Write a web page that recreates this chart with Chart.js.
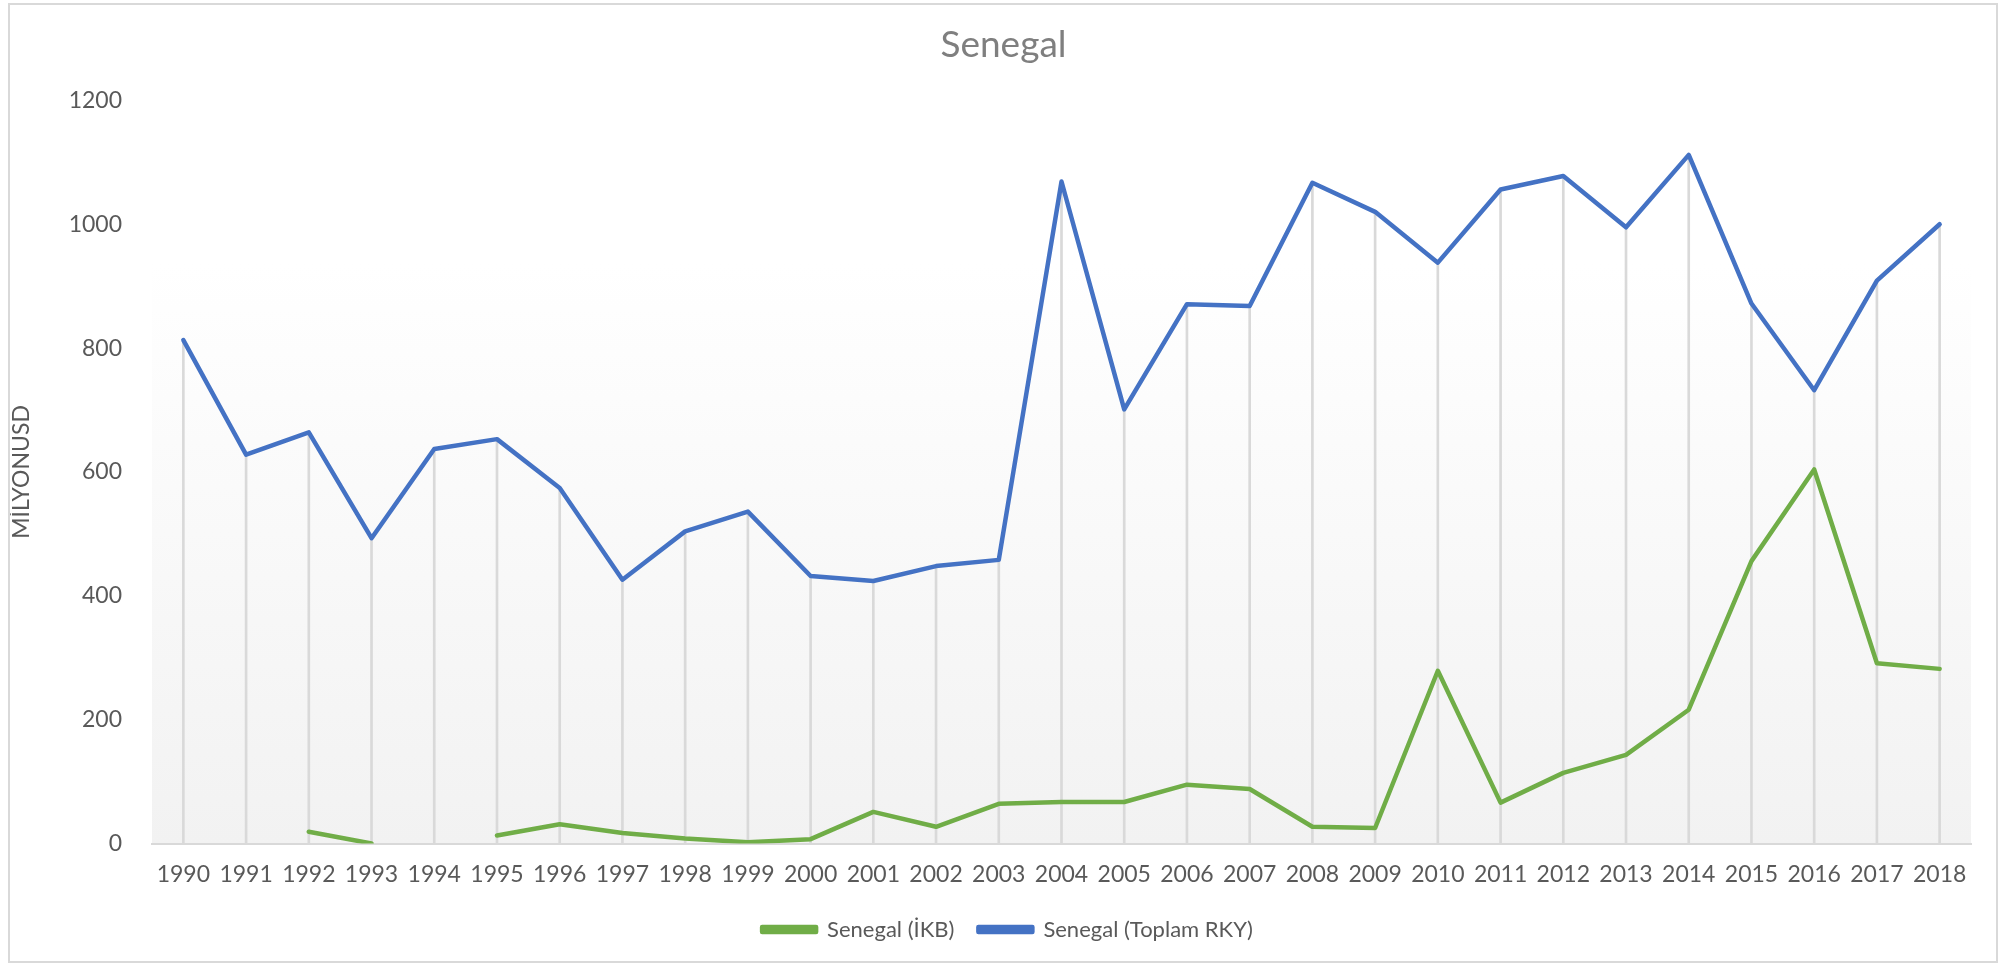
<!DOCTYPE html>
<html>
<head>
<meta charset="utf-8">
<script src="https://cdn.jsdelivr.net/npm/chart.js@4/dist/chart.umd.min.js"></script>
<style>
  html, body { margin: 0; padding: 0; background: #fff; }
  #wrap { position: relative; width: 2015px; height: 966px; }
  #frame { position: absolute; left: 8px; top: 3px; width: 1990px; height: 960px; border: 2px solid #d9d9d9; box-sizing: border-box; pointer-events: none; }
</style>
</head>
<body>
<div id="wrap">
  <canvas id="chart" width="2015" height="966"></canvas>
  <div id="frame"></div>
</div>
<script>
// --- Data ---
const years = ['1990','1991','1992','1993','1994','1995','1996','1997','1998','1999',
               '2000','2001','2002','2003','2004','2005','2006','2007','2008','2009',
               '2010','2011','2012','2013','2014','2015','2016','2017','2018'];

// Senegal (İKB)
const ikb = [null, null, 19, 0, null, 13, 31, 17, 8, 2,
             7, 51, 27, 64, 67, 67, 95, 88, 27, 25,
             279, 66, 114, 143, 216, 456, 604, 291, 282];

// Senegal (Toplam RKY)
const toplamRky = [813, 628, 664, 493, 637, 653, 574, 426, 504, 536,
                   432, 424, 448, 458, 1069, 701, 871, 868, 1067, 1020,
                   938, 1056, 1078, 995, 1112, 872, 732, 909, 1000];

const yTicks = [0, 200, 400, 600, 800, 1000, 1200];

const FONT = 'Lato, "Open Sans", sans-serif';
const TEXT = '#595959';

// plot area fill: white at the top fading to light grey
const plotBackground = {
    id: 'plotBackground',
    beforeDraw(chart) {
        const {ctx, chartArea: a} = chart;
        const g = ctx.createLinearGradient(0, a.top, 0, a.bottom);
        g.addColorStop(0, '#ffffff');
        g.addColorStop(0.22, '#ffffff');
        g.addColorStop(1, '#f2f2f2');
        ctx.save();
        ctx.fillStyle = g;
        ctx.fillRect(a.left, a.top, a.right - a.left, a.bottom - a.top);
        ctx.restore();
    }
};

// title and legend sit centred on the whole frame, not on the padded box
const nudgeBoxes = {
    id: 'nudgeBoxes',
    afterLayout(chart) {
        chart.titleBlock.left += 18;
        chart.titleBlock.right += 18;
        chart.legend.left += 22;
        chart.legend.right += 22;
    }
};

new Chart(document.getElementById('chart'), {
    type: 'line',
    data: {
        labels: years,
        datasets: [
            {
                label: 'Senegal (İKB)',
                data: ikb,
                borderColor: '#70ad47',
                backgroundColor: '#70ad47',
                borderWidth: 4.5,
                pointRadius: 0,
                tension: 0,
                borderJoinStyle: 'round',
                borderCapStyle: 'round',
                spanGaps: false,
                order: 1
            },
            {
                label: 'Senegal (Toplam RKY)',
                data: toplamRky,
                borderColor: '#4472c4',
                backgroundColor: '#4472c4',
                borderWidth: 4.5,
                pointRadius: 0,
                tension: 0,
                borderJoinStyle: 'round',
                borderCapStyle: 'round',
                order: 2
            },
            {
                // drop lines from the top series down to the axis
                type: 'bar',
                label: 'drop',
                data: toplamRky,
                backgroundColor: '#d9d9d9',
                barThickness: 2,
                order: 3
            }
        ]
    },
    options: {
        responsive: false,
        animation: false,
        layout: { padding: { left: 0, right: 44, top: 0, bottom: 15.5 } },
        plugins: {
            title: {
                display: true,
                text: 'Senegal',
                color: '#7f7f7f',
                font: { family: FONT, size: 37, weight: 'normal' },
                padding: { top: 23, bottom: 33 }
            },
            legend: {
                position: 'bottom',
                labels: {
                    color: TEXT,
                    font: { family: FONT, size: 22 },
                    boxWidth: 54,
                    boxHeight: 5,
                    padding: 24,
                    filter: item => item.datasetIndex < 2
                }
            },
            tooltip: { enabled: false }
        },
        scales: {
            x: {
                offset: true,
                grid: { display: false },
                border: { color: '#d9d9d9', width: 2 },
                ticks: { color: TEXT, font: { family: FONT, size: 23 }, padding: 9, maxRotation: 0, autoSkip: false },
                afterFit(scale) { scale.height = 51; }
            },
            y: {
                min: 0,
                max: 1200,
                afterBuildTicks(scale) { scale.ticks = yTicks.map(v => ({ value: v })); },
                grid: { display: false },
                border: { display: false },
                ticks: { color: TEXT, font: { family: FONT, size: 23 }, padding: 22, callback: v => String(v) },
                title: {
                    display: true,
                    text: 'MİLYONUSD',
                    color: TEXT,
                    font: { family: FONT, size: 23 },
                    padding: { top: 8, bottom: 0 }
                },
                afterFit(scale) { scale.width = 152; }
            }
        }
    },
    plugins: [plotBackground, nudgeBoxes]
});
</script>
</body>
</html>
